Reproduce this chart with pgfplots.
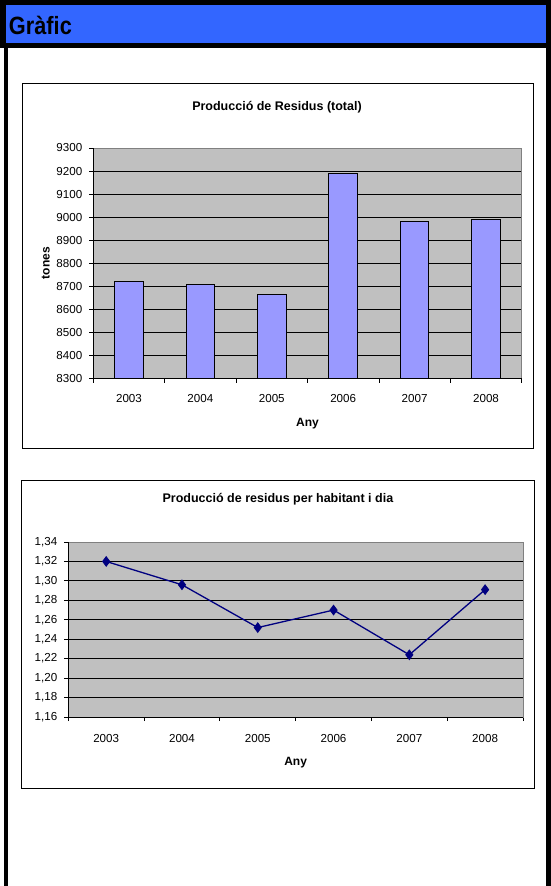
\documentclass[border=0pt]{standalone}
\usepackage{graphicx}
\usepackage{pgfplots}
\pgfplotsset{compat=1.18}
\usepackage{fontspec}
\setmainfont{Liberation Sans}

\definecolor{hdrblue}{HTML}{3366FF}
\definecolor{plotgray}{HTML}{C0C0C0}
\definecolor{barblue}{HTML}{9999FF}
\definecolor{navyline}{HTML}{000080}

\pgfplotsset{
  excelstyle/.style={
    scale only axis,
    anchor=south west,
    xmin=-0.5, xmax=5.5,
    xtick={-0.5,0.5,...,5.5},
    x tick label as interval,
    xticklabels={2003,2004,2005,2006,2007,2008},
    xtick pos=left, ytick pos=left,
    tick align=outside,
    major tick length=4bp,
    tick style={black, line width=0.8bp},
    axis background/.style={fill=plotgray},
    axis line style={draw=gray, line width=0.8bp},
    ymajorgrids,
    major grid style={black, line width=0.8bp},
    tick label style={font=\fontsize{11.6bp}{14bp}\selectfont},
    xticklabel style={yshift=-8bp},
    yticklabel style={xshift=-3.5bp},
    /pgf/number format/assume math mode=true,
    label style={font=\fontsize{12bp}{14bp}\selectfont\bfseries},
    title style={font=\fontsize{12.5bp}{15bp}\selectfont\bfseries, anchor=center},
    xlabel={Any},
    after end axis/.code={
      \draw[black, line width=0.8bp] (rel axis cs:0,1) -- (rel axis cs:0,0) -- (rel axis cs:1,0);
    },
  }
}

\begin{document}
\begin{tikzpicture}
\path[use as bounding box] (0,0) rectangle (551bp,-886bp);
% header band and page border
\fill[black] (0,0) rectangle (551bp,-48bp);
\fill[hdrblue] (6bp,-5bp) rectangle (546bp,-43bp);
\fill[black] (4bp,-48bp) rectangle (8bp,-886bp);
\fill[black] (546bp,-48bp) rectangle (551bp,-886bp);
\node[anchor=base west, inner sep=0pt, font=\fontsize{25bp}{25bp}\selectfont\bfseries]
  at (8.8bp,-34bp) {\scalebox{0.87}[1]{Gràfic}};

% chart frames
\draw[black, line width=1bp] (22bp,-83bp) rectangle (533bp,-448bp);
\draw[black, line width=1bp] (21bp,-480bp) rectangle (534bp,-788bp);

% total production
\begin{axis}[
  excelstyle,
  at={(93.3bp,-378.6bp)},
  width=428.4bp, height=230.6bp,
  ymin=8300, ymax=9300,
  ytick={8300,8400,...,9300},
  /pgf/number format/1000 sep={},
  ylabel={tones},
  title={Producció de Residus (total)},
  title style={at={(axis description cs:0.4288,1.152)}},
  xlabel style={at={(axis description cs:0.5,-0.197)}, anchor=center},
  ylabel style={at={(axis description cs:-0.111,0.5)}, anchor=center},
]
\addplot[ybar, bar width=0.4, fill=barblue, draw=black, line width=1.1bp] coordinates {
  (0,8723) (1,8710) (2,8664) (3,9188) (4,8983) (5,8991)
};
\end{axis}

% per inhabitant and day
\begin{axis}[
  excelstyle,
  at={(68.3bp,-717bp)},
  width=454.7bp, height=175bp,
  ymin=1.16, ymax=1.34,
  ytick={1.16,1.18,1.20,1.22,1.24,1.26,1.28,1.30,1.32,1.34},
  yticklabel style={/pgf/number format/.cd, fixed, fixed zerofill, precision=2, use comma},
  xticklabel style={yshift=-1.5bp},
  title={Producció de residus per habitant i dia},
  title style={at={(axis description cs:0.461,1.211)}},
  xlabel style={at={(axis description cs:0.5,-0.262)}, anchor=center},
]
\addplot[navyline, line width=1.3bp, mark=diamond*, mark size=4.8bp,
  mark options={fill=navyline, draw=navyline, line width=0.8bp}] coordinates {
  (0,1.320) (1,1.296) (2,1.252) (3,1.270) (4,1.224) (5,1.291)
};
\end{axis}
\end{tikzpicture}
\end{document}
